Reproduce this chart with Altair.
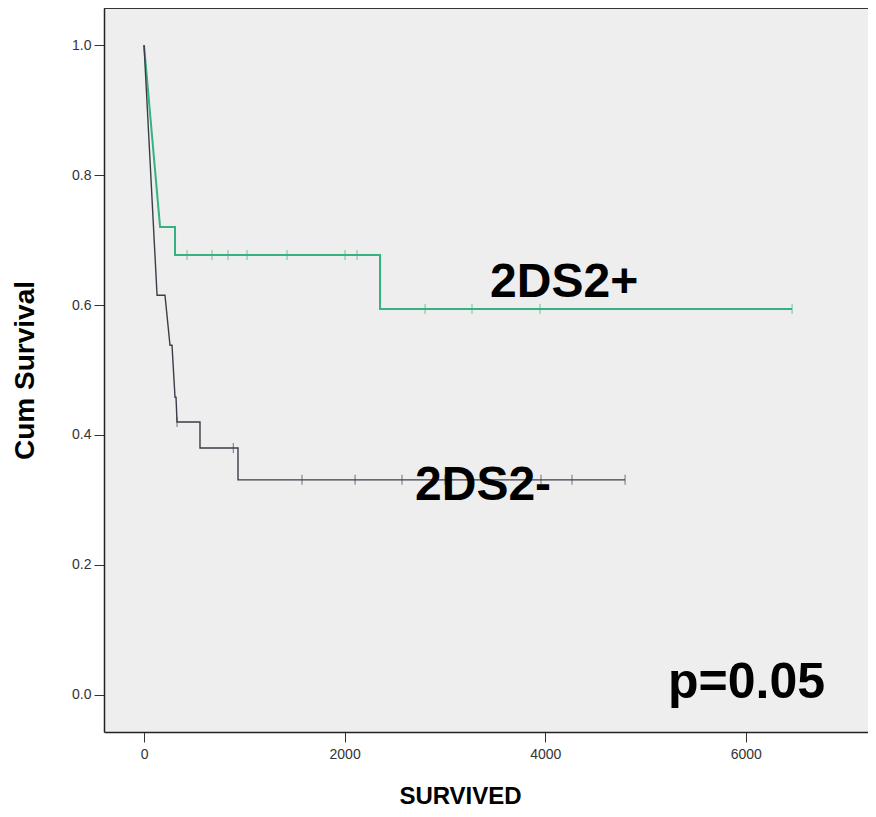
import altair as alt
import pandas as pd

# Kaplan-Meier curve vertices as drawn (time in days, cumulative survival)
pos_t = [0, 160, 309, 309, 2353, 2353, 6461]
pos_s = [1.0, 0.72, 0.72, 0.677, 0.677, 0.594, 0.594]

neg_t = [0, 130, 209, 259, 279, 309, 319, 329, 558, 558, 937, 937, 4796]
neg_s = [1.0, 0.615, 0.615, 0.538, 0.538, 0.458, 0.458, 0.42, 0.42, 0.38, 0.38, 0.331, 0.331]

# censored observations
pos_cens_t = [429, 678, 837, 1027, 1426, 2004, 2124, 2802, 3270, 3948, 6461]
pos_cens_s = [0.677] * 7 + [0.594] * 4
neg_cens_t = [329, 890, 1575, 2104, 2572, 3001, 3958, 4267, 4796]
neg_cens_s = [0.42, 0.38] + [0.331] * 7

# annotations
label_text = ["2DS2+", "2DS2-", "p=0.05"]
label_t = [3450, 2702, 5224]
label_s = [0.612, 0.30, -0.005]
label_size = [48, 48, 50]

y_ticks = [0.0, 0.2, 0.4, 0.6, 0.8, 1.0]
x_ticks = [0, 2000, 4000, 6000]

GREEN = "#35b27f"
DARK = "#3c3c48"

lines = pd.DataFrame(
    [{"grp": "2DS2+", "idx": i, "t": t, "s": s} for i, (t, s) in enumerate(zip(pos_t, pos_s))]
    + [{"grp": "2DS2-", "idx": i, "t": t, "s": s} for i, (t, s) in enumerate(zip(neg_t, neg_s))]
)
cens = pd.DataFrame(
    [{"grp": "2DS2+", "t": t, "s": s} for t, s in zip(pos_cens_t, pos_cens_s)]
    + [{"grp": "2DS2-", "t": t, "s": s} for t, s in zip(neg_cens_t, neg_cens_s)]
)
labels = pd.DataFrame({"text": label_text, "t": label_t, "s": label_s, "size": label_size})

xscale = alt.Scale(domain=[-399, 7218], nice=False, zero=False)
yscale = alt.Scale(domain=[-0.057, 1.057], nice=False, zero=False)
colscale = alt.Scale(domain=["2DS2+", "2DS2-"], range=[GREEN, DARK])

xaxis = alt.Axis(
    title="SURVIVED", values=x_ticks, format="d", grid=False,
    titleX=356, titleY=71, titleBaseline="alphabetic", titleAnchor="start", titleAlign="center",
)
yaxis = alt.Axis(
    title="Cum Survival", values=y_ticks, format=".1f", grid=False,
    titleX=-79, titleY=362, titleBaseline="middle", titleAngle=270, titleAlign="center",
)

line_layer = alt.Chart(lines).mark_line().encode(
    x=alt.X("t:Q", scale=xscale, axis=xaxis),
    y=alt.Y("s:Q", scale=yscale, axis=yaxis),
    color=alt.Color("grp:N", scale=colscale, legend=None),
    strokeWidth=alt.StrokeWidth("grp:N", scale=alt.Scale(domain=["2DS2+", "2DS2-"], range=[2.0, 1.4]), legend=None),
    detail="grp:N",
    order="idx:Q",
)

cens_layer = alt.Chart(cens).mark_tick(orient="vertical", size=10, thickness=1).encode(
    x=alt.X("t:Q", scale=xscale),
    y=alt.Y("s:Q", scale=yscale),
    color=alt.Color("grp:N", scale=colscale, legend=None),
)

text_layer = alt.Chart(labels).mark_text(
    align="left", baseline="alphabetic", font="Liberation Sans", fontWeight="bold",
    color="#000000",
).encode(
    x=alt.X("t:Q", scale=xscale),
    y=alt.Y("s:Q", scale=yscale),
    text="text:N",
    size=alt.Size("size:Q", scale=None, legend=None),
)

top_border = alt.Chart(labels).mark_rule(color="#333333", strokeWidth=1.5).encode(
    x=alt.value(0), x2=alt.value(764), y=alt.value(0)
)

chart = alt.layer(line_layer, cens_layer, text_layer, top_border).properties(
    width=764, height=724,
    autosize=alt.AutoSizeParams(type="none"),
    padding={"left": 96, "top": 0, "right": 0, "bottom": 77},
).configure_view(
    fill="#eeeeee", strokeWidth=0, stroke="transparent",
).configure_axis(
    domainColor="#222222", domainWidth=1.5,
    tickColor="#333333", tickSize=10, tickWidth=1,
    labelFont="Liberation Sans", labelFontSize=14, labelColor="#333333", labelPadding=3,
    titleFont="Liberation Sans", titleFontWeight="bold", titleColor="#000000",
).configure_axisX(
    titleFontSize=24, labelPadding=5,
).configure_axisY(
    titleFontSize=28,
)

chart.save("out.html", embed_options={"renderer": "svg", "actions": False})
